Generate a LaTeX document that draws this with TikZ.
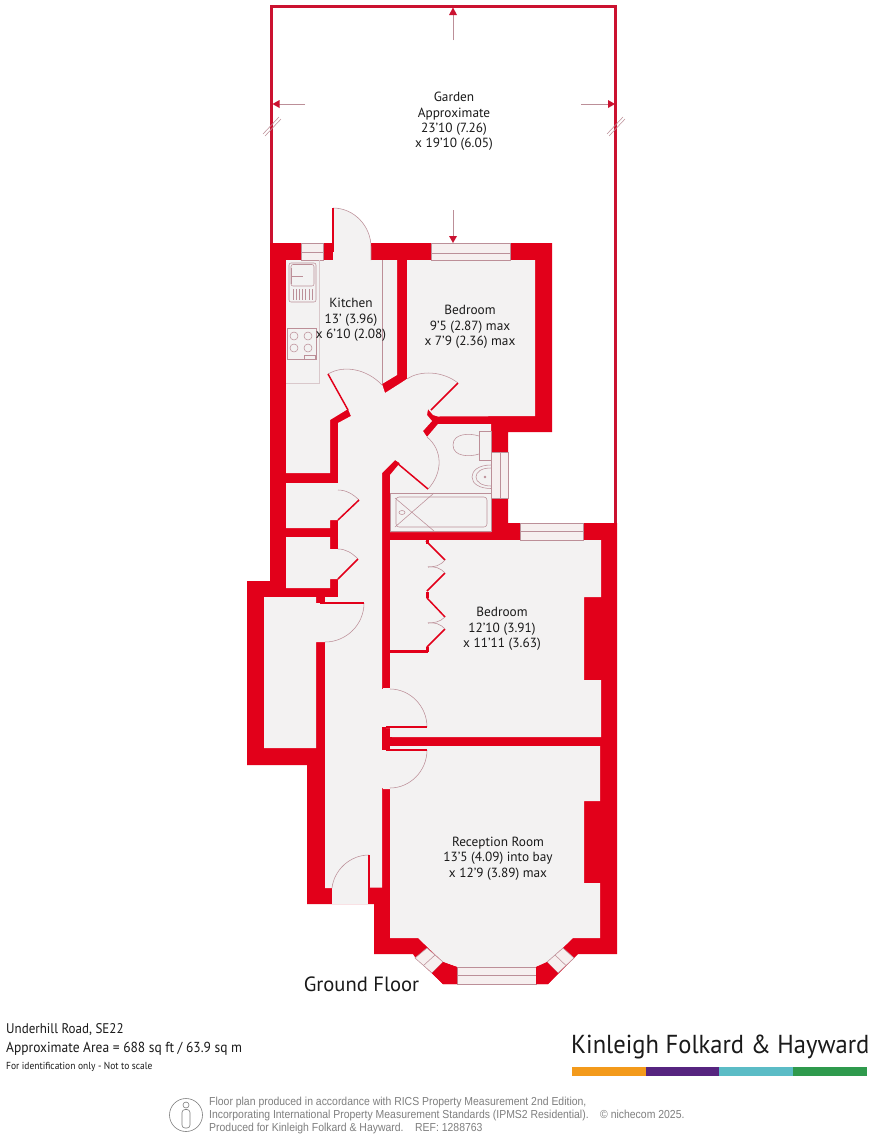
\documentclass[tikz,border=0pt]{standalone}
\usepackage{fontspec}
\setmainfont{PT Sans}
\newfontfamily\footfont[FakeStretch=0.9]{Liberation Sans}
\newfontfamily\brandfont[FakeStretch=0.945]{PT Sans}
\newfontfamily\lefta[FakeStretch=0.93]{PT Sans}
\definecolor{wallred}{HTML}{E2001A}
\definecolor{gardenred}{HTML}{CB1230}
\definecolor{floorgrey}{HTML}{F3F2F2}
\definecolor{thinline}{HTML}{BC8F98}
\definecolor{faintline}{HTML}{D9C8CB}
\definecolor{winfill}{HTML}{F6EFEF}
\definecolor{inktext}{HTML}{1A1A1A}
\definecolor{footgrey}{HTML}{7F7F7F}
\definecolor{barorange}{HTML}{F39A1B}
\definecolor{barpurple}{HTML}{56247F}
\definecolor{barteal}{HTML}{5BBCC6}
\definecolor{bargreen}{HTML}{2F9A4D}
\tikzset{
  wall/.style={fill=wallred,draw=none},
  flr/.style={fill=floorgrey,draw=none},
  thin/.style={draw=thinline,line width=0.55pt},
  leaf/.style={draw=wallred,line width=1.5pt},
  win/.style={fill=winfill,draw=thinline,line width=0.55pt},
  dim/.style={draw=thinline,line width=0.9pt},
  head/.style={fill=gardenred,draw=none},
  roomtxt/.style={align=center,inner sep=0pt,text=inktext,font=\fontsize{13.3}{15.4}\selectfont},
  lefttxt/.style={anchor=base west,inner sep=0pt,text=inktext},
  foottxt/.style={anchor=base west,inner sep=0pt,text=footgrey,font=\footfont\fontsize{11.6}{13}\selectfont}
}
\begin{document}
\begin{tikzpicture}[x=1pt,y=-1pt]
\useasboundingbox (0,0) rectangle (872,1136);
\fill[white] (0,0) rectangle (872,1136);
% garden
\draw[gardenred,line width=3pt,line join=miter] (271.5,245) -- (271.5,6.5) -- (615.5,6.5) -- (615.5,525);
% back door sector
\fill[floorgrey] (333,208) .. controls (354,208) and (371,226) .. (371,247) -- (371,262) -- (333,262) -- cycle;
% building silhouette
\path[wall] (270,243) -- (333,243) -- (333,261) -- (371,261) -- (371,243) -- (552,243) -- (552,432) -- (508,432) -- (508,523) -- (617,523) -- (617,954) -- (578,954) -- (548,984) -- (443,984) -- (415,957) -- (413,954) -- (374,954) -- (374,904) -- (307,904) -- (307,765) -- (247,765) -- (247,581) -- (270,581) -- cycle;
% rooms
\path[flr] (333,243) rectangle (371,262);
\path[flr] (286,260) -- (397,260) -- (397,375) -- (382,384) -- (385,393) -- (407,379) -- (428,409) -- (427,415) -- (432,421) -- (423,431) -- (427,437) -- (400,463) -- (395,460) -- (382,473) -- (382,689) -- (390,689) -- (390,727) -- (382,727) -- (382,750) -- (390,750) -- (390,788) -- (382,788) -- (382,887.5) -- (369,887.5) -- (369,904) -- (332,904) -- (332,888) -- (325,888) -- (325,597) -- (338,597) -- (338,423) -- (351,416) -- (348,409) -- (330,420) -- (330,473) -- (286,473) -- cycle;
\path[flr] (407,260) -- (535,260) -- (535,416) -- (438,416.5) -- (433,415) -- (428,409) -- (424,412) -- (403,382) -- (407,379) -- cycle;
\path[flr] (438,424) -- (491,424) -- (491,532) -- (390,532) -- (390,475) -- (400,463) -- (397,461) -- (424,434) -- (427,437) -- cycle;
\path[flr] (286,483) -- (339,483) -- (339,520) -- (330,520) -- (330,528) -- (286,528) -- cycle;
\path[flr] (286,537) -- (330,537) -- (330,549) -- (339,549) -- (339,579) -- (330,579) -- (330,588) -- (286,588) -- cycle;
\path[flr] (264,597) -- (316,597) -- (316,603) -- (326,603) -- (326,642) -- (316,642) -- (316,748) -- (264,748) -- cycle;
\path[flr] (390,540) -- (601,540) -- (601,597) -- (584,597) -- (584,680) -- (601,680) -- (601,737) -- (390,737) -- (390,688) -- (383,688) -- (383,728) -- (390,728) -- cycle;
\path[flr] (390,746) -- (600,746) -- (600,801) -- (584,801) -- (584,883) -- (600,883) -- (600,938) -- (573,938) -- (548,962) -- (536,967) -- (457,967) -- (443,962) -- (418,938) -- (390,938) -- (390,789) -- (383,789) -- (383,749) -- (390,749) -- cycle;
% stubs over the bedroom/reception door openings
\path[wall] (382,727) rectangle (386,750);
\path[wall] (386,737) rectangle (392,746);
% windows
\path[win] (301,243) rectangle (323,260);
\draw[thin] (301,252.5) -- (323,252.5);
\path[win] (431,243) rectangle (510,260);
\draw[thin] (431,253) -- (510,253);
\path[win] (491,452) rectangle (508,498);
\draw[thin] (500,452) -- (500,498);
\path[win] (520,523) rectangle (583,540);
\draw[thin] (520,531) -- (583,531);
\path[win] (457,967) rectangle (536,984);
\draw[thin] (457,975.5) -- (536,975.5);
\path[win] (427,948) -- (443,962) -- (432,973) -- (415,958) -- cycle;
\draw[thin] (435,955) -- (423.5,965.5);
\path[win] (563,948) -- (547,962) -- (558,973) -- (574,958) -- cycle;
\draw[thin] (555,955) -- (566,965.5);
\path[wall] (443,962) -- (457,967) -- (457,984) -- (443,984) -- (432,973) -- cycle;
\path[wall] (547,962) -- (536,967) -- (536,984) -- (548,984) -- (558,973) -- cycle;
% back door
\draw[thin] (333,208) .. controls (354,208) and (371,226) .. (371,247) -- (371,260);
\draw[leaf] (333,208) -- (333,252);
% kitchen door
\draw[thin] (328,374) .. controls (345,364) and (368,370) .. (382,385);
\draw[leaf] (348,410) -- (328,374);
% bedroom door
\draw[thin] (458,383) .. controls (443,371) and (420,370) .. (407,379);
\draw[leaf] (458,383) -- (431,410);
% bathroom door
\draw[thin] (428,489) .. controls (443,473) and (443,450) .. (427,437);
\draw[leaf] (397,463) -- (428,489);
% cupboards
\draw[thin] (359,500) .. controls (353,494) and (346,490) .. (338,490);
\draw[leaf] (338,520) -- (359,500);
\draw[thin] (358,559) .. controls (352,553) and (346,549) .. (338,549);
\draw[leaf] (338,579) -- (358,559);
% closet door
\draw[thin] (364,603) .. controls (364,625) and (346,642) .. (325,642);
\draw[leaf] (320,603) -- (364,603);
% bedroom 2 & reception doors
\draw[thin] (427,727) .. controls (427,706) and (410,689) .. (390,689);
\draw[leaf] (386,727) -- (427,727);
\draw[thin] (427,750) .. controls (427,771) and (410,788) .. (390,788);
\draw[leaf] (386,750) -- (427,750);
% front door
\draw[thin] (369,855) .. controls (350,855) and (334,870) .. (332,888);
\draw[leaf] (369,855) -- (369,904);
% wardrobe
\path[wall] (390,650) rectangle (428,652.5);
\path[wall] (426,647) rectangle (428.5,652);
\path[wall] (426,592) rectangle (428.5,598);
\path[wall] (426,540) rectangle (428.5,544);
\draw[leaf] (426,541) -- (445,560);
\draw[leaf] (445,573) -- (427,591);
\draw[leaf] (427,598) -- (445,617);
\draw[leaf] (445,629) -- (427,647);
\draw[thin] (445,560) .. controls (440,566) and (434,567) .. (428,567);
\draw[thin] (428,567) .. controls (434,566) and (441,568) .. (445,573);
\draw[thin] (445,617) .. controls (440,622) and (434,623) .. (428,623);
\draw[thin] (428,623) .. controls (434,622) and (441,624) .. (445,629);
% kitchen fittings
\draw[draw=faintline,line width=0.5pt] (286,383) -- (319,383) -- (319,260);
\draw[thin] (382,260) -- (382,384);
\draw[thin,rounded corners=2pt] (289,263) rectangle (316,302);
\draw[thin,rounded corners=2pt] (291,264.5) rectangle (314,286);
\foreach \xx in {293,296.2,...,312.5} \draw[thin,line width=0.8pt] (\xx,289) -- (\xx,300);
\draw[thin,line width=0.9pt] (291,276) -- (303,276);
\draw[thin,line width=0.9pt] (291.5,268) -- (291.5,284);
\draw[thin] (287,328) rectangle (316,359);
\foreach \cx/\cy in {294/336,308/336,294/348,308/348} \draw[thin] (\cx,\cy) circle (4);
\draw[thin] (304,355) rectangle (315,359);
% bathroom fittings
\draw[thin] (479,431) rectangle (491,460);
\draw[thin] (479,436) .. controls (470,433) and (453,433) .. (453,445) .. controls (453,457) and (470,457) .. (479,454);
\draw[thin] (491,465) .. controls (478,465) and (472,471) .. (472,477) .. controls (472,484) and (480,488.5) .. (491,488.5);
\draw[thin] (491,468) .. controls (481,468) and (476,472) .. (476,477) .. controls (476,482) and (482,486) .. (491,486);
\fill[thinline] (485,477) circle (1.3);
\draw[thin] (390,493) rectangle (491,531.5);
\draw[thin,rounded corners=3pt] (396,497) rectangle (487,527);
\draw[thin] (395,498) -- (434,531);
\draw[thin] (395,527) -- (434,493);
\draw[thin] (402,512.5) ellipse (3 and 2);
% garden dimensions
\draw[dim] (453,40) -- (453,14);
\path[head] (453,7.5) -- (457,15) -- (449,15) -- cycle;
\draw[dim] (453,210) -- (453,236);
\path[head] (453,243) -- (457,236) -- (449,236) -- cycle;
\draw[dim] (305,104) -- (279,104);
\path[head] (272.5,104) -- (279.5,100) -- (279.5,108) -- cycle;
\draw[dim] (581,104) -- (608,104);
\path[head] (615,104) -- (608,100) -- (608,108) -- cycle;
\draw[thin] (263,134) -- (279,117);
\draw[thin] (265,136) -- (281,119);
\draw[thin] (607,134) -- (623,117);
\draw[thin] (609,136) -- (625,119);
% texts
\node[roomtxt] (garden) at (454,121.5) {Garden\\Approximate\\23'10 (7.26)\\x 19'10 (6.05)};
\node[roomtxt] (kitchen) at (351,320) {Kitchen\\13' (3.96)\\x 6'10 (2.08)};
\node[roomtxt] (bed1) at (470,327) {Bedroom\\9'5 (2.87) max\\x 7'9 (2.36) max};
\node[roomtxt] (bed2) at (502,629) {Bedroom\\12'10 (3.91)\\x 11'11 (3.63)};
\node[roomtxt] (recep) at (498,858.5) {Reception Room\\13'5 (4.09) into bay\\x 12'9 (3.89) max};
\node[inner sep=0pt,text=inktext,font=\fontsize{20.6}{24}\selectfont] (floorname) at (361.5,984) {Ground Floor};
\node[lefttxt,font=\lefta\fontsize{14}{16}\selectfont] (addr) at (6,1033) {Underhill Road, SE22};
\node[lefttxt,font=\lefta\fontsize{14.5}{16}\selectfont] (area) at (6,1052) {Approximate Area = 688 sq ft / 63.9 sq m};
\node[lefttxt,font=\lefta\fontsize{10.2}{12}\selectfont] (ident) at (6,1069) {For identification only - Not to scale};
\node[lefttxt,font=\brandfont\fontsize{26}{30}\selectfont] (brand) at (571,1053) {Kinleigh Folkard \& Hayward};
\fill[barorange] (572,1067) rectangle (645.6,1076);
\fill[barpurple] (645.6,1067) rectangle (719.4,1076);
\fill[barteal] (719.4,1067) rectangle (793,1076);
\fill[bargreen] (793,1067) rectangle (867,1076);
% person icon
\draw[footgrey,line width=0.6pt] (186,1115) ellipse (16.5 and 16.5);
\draw[footgrey,line width=0.6pt] (186,1105) circle (3);
\draw[footgrey,line width=0.6pt,rounded corners=3pt] (182,1109.5) rectangle (190,1128);
\node[foottxt] (f1) at (209,1105.5) {Floor plan produced in accordance with RICS Property Measurement 2nd Edition,};
\node[foottxt] (f2) at (209,1118.5) {Incorporating International Property Measurement Standards (IPMS2 Residential).};
\node[foottxt] (f3) at (600,1118.5) {© nichecom 2025.};
\node[foottxt] (f4) at (209,1131) {Produced for Kinleigh Folkard \& Hayward.\quad REF: 1288763};
\end{tikzpicture}
\end{document}
